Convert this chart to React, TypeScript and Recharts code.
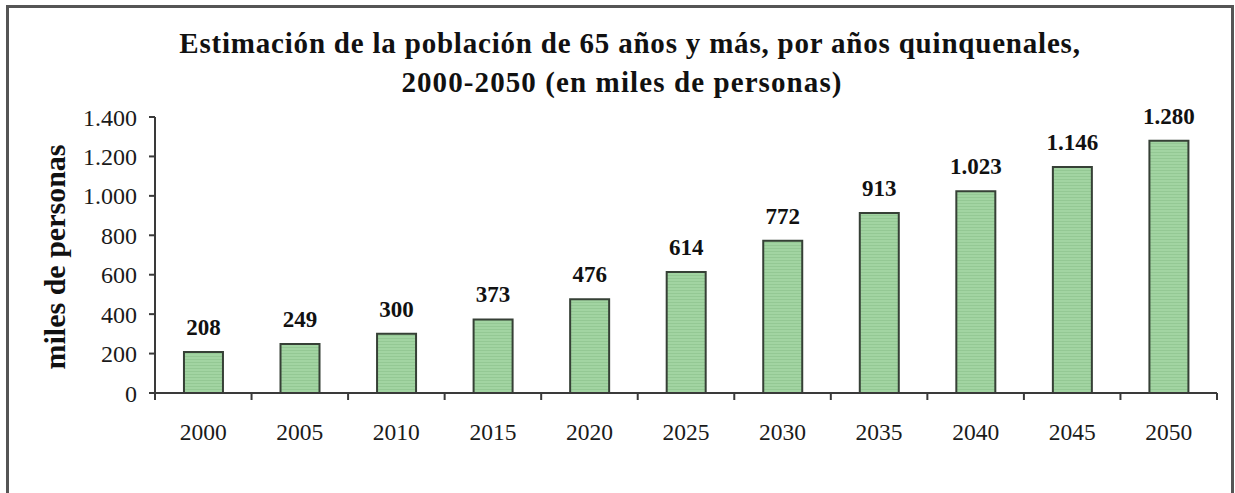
import React from "react";
import { BarChart, Bar, XAxis, YAxis, LabelList } from "recharts";

const years = ["2000", "2005", "2010", "2015", "2020", "2025", "2030", "2035", "2040", "2045", "2050"];
const values = [208, 249, 300, 373, 476, 614, 772, 913, 1023, 1146, 1280];
const yTicks = [0, 200, 400, 600, 800, 1000, 1200, 1400];
const titleLines = [
  "Estimación de la población de 65 años y más, por años quinquenales,",
  "2000-2050 (en miles de personas)",
];
const yAxisTitle = "miles de personas";

const data = years.map((y, i) => ({ year: y, value: values[i] }));

const fmt = (v: number) => String(v).replace(/\B(?=(\d{3})+(?!\d))/g, ".");

const FONT = "'Liberation Serif', 'Times New Roman', serif";
const AXIS = "#3a3a3a";

const XTick = (props: any) => {
  const { x, y, payload, index } = props;
  const half = payload && payload.offset ? payload.offset : 48.27;
  const last = index === years.length - 1;
  return (
    <g>
      <line x1={x - half} x2={x - half} y1={y} y2={y + 7} stroke={AXIS} strokeWidth={2} />
      {last && <line x1={x + half} x2={x + half} y1={y} y2={y + 7} stroke={AXIS} strokeWidth={2} />}
      <text x={x} y={y + 47} textAnchor="middle" fontFamily={FONT} fontSize={23.5} fill="#1a1a1a">
        {payload.value}
      </text>
    </g>
  );
};

export default function App() {
  return (
    <div style={{ position: "absolute", left: 0, top: 0, width: 1235, height: 493, background: "#fff", overflow: "hidden" }}>
      <div
        style={{
          position: "absolute",
          left: 6,
          top: 5,
          width: 1228,
          height: 520,
          border: "3px solid #555",
          boxSizing: "border-box",
        }}
      />
      {titleLines.map((t, i) => (
        <div
          key={i}
          style={{
            position: "absolute",
            left: i === 0 ? 8 : 0,
            width: 1244,
            top: 26 + i * 39,
            textAlign: "center",
            fontFamily: FONT,
            fontWeight: "bold",
            fontSize: 29,
            letterSpacing: i === 0 ? 0.8 : 1.1,
            lineHeight: "34px",
            color: "#111",
            whiteSpace: "nowrap",
          }}
        >
          {t}
        </div>
      ))}
      <div
        style={{
          position: "absolute",
          left: 55,
          top: 257,
          transform: "translate(-50%, -50%) rotate(-90deg)",
          fontFamily: FONT,
          fontWeight: "bold",
          fontSize: 30,
          color: "#111",
          whiteSpace: "nowrap",
        }}
      >
        {yAxisTitle}
      </div>
      <div style={{ position: "absolute", left: 0, top: 0 }}>
        <BarChart
          width={1235}
          height={493}
          data={data}
          margin={{ top: 117, right: 18, bottom: 60, left: 0 }}
          barCategoryGap="30%"
        >
          <defs>
            <pattern id="stripes" width="4" height="3" patternUnits="userSpaceOnUse">
              <rect width="4" height="3" fill="#a2d4a2" />
              <rect y="2" width="4" height="1" fill="#94c894" />
            </pattern>
          </defs>
          <XAxis
            dataKey="year"
            height={40}
            tickLine={false}
            tickSize={0}
            tickMargin={0}
            interval={0}
            axisLine={{ stroke: AXIS, strokeWidth: 2 }}
            tick={<XTick />}
          />
          <YAxis
            width={155}
            domain={[0, 1400]}
            ticks={yTicks}
            interval={0}
            tickFormatter={fmt}
            tickSize={6}
            tickMargin={12}
            axisLine={{ stroke: AXIS, strokeWidth: 2 }}
            tickLine={{ stroke: AXIS, strokeWidth: 2 }}
            tick={{ fontFamily: FONT, fontSize: 24, fill: "#1a1a1a" }}
          />
          <Bar dataKey="value" fill="url(#stripes)" stroke="#364036" strokeWidth={2} isAnimationActive={false}>
            <LabelList
              dataKey="value"
              position="top"
              offset={17}
              formatter={(v: any) => fmt(Number(v))}
              style={{ fontFamily: FONT, fontSize: 23, fontWeight: "bold", fill: "#111" }}
            />
          </Bar>
        </BarChart>
      </div>
    </div>
  );
}
